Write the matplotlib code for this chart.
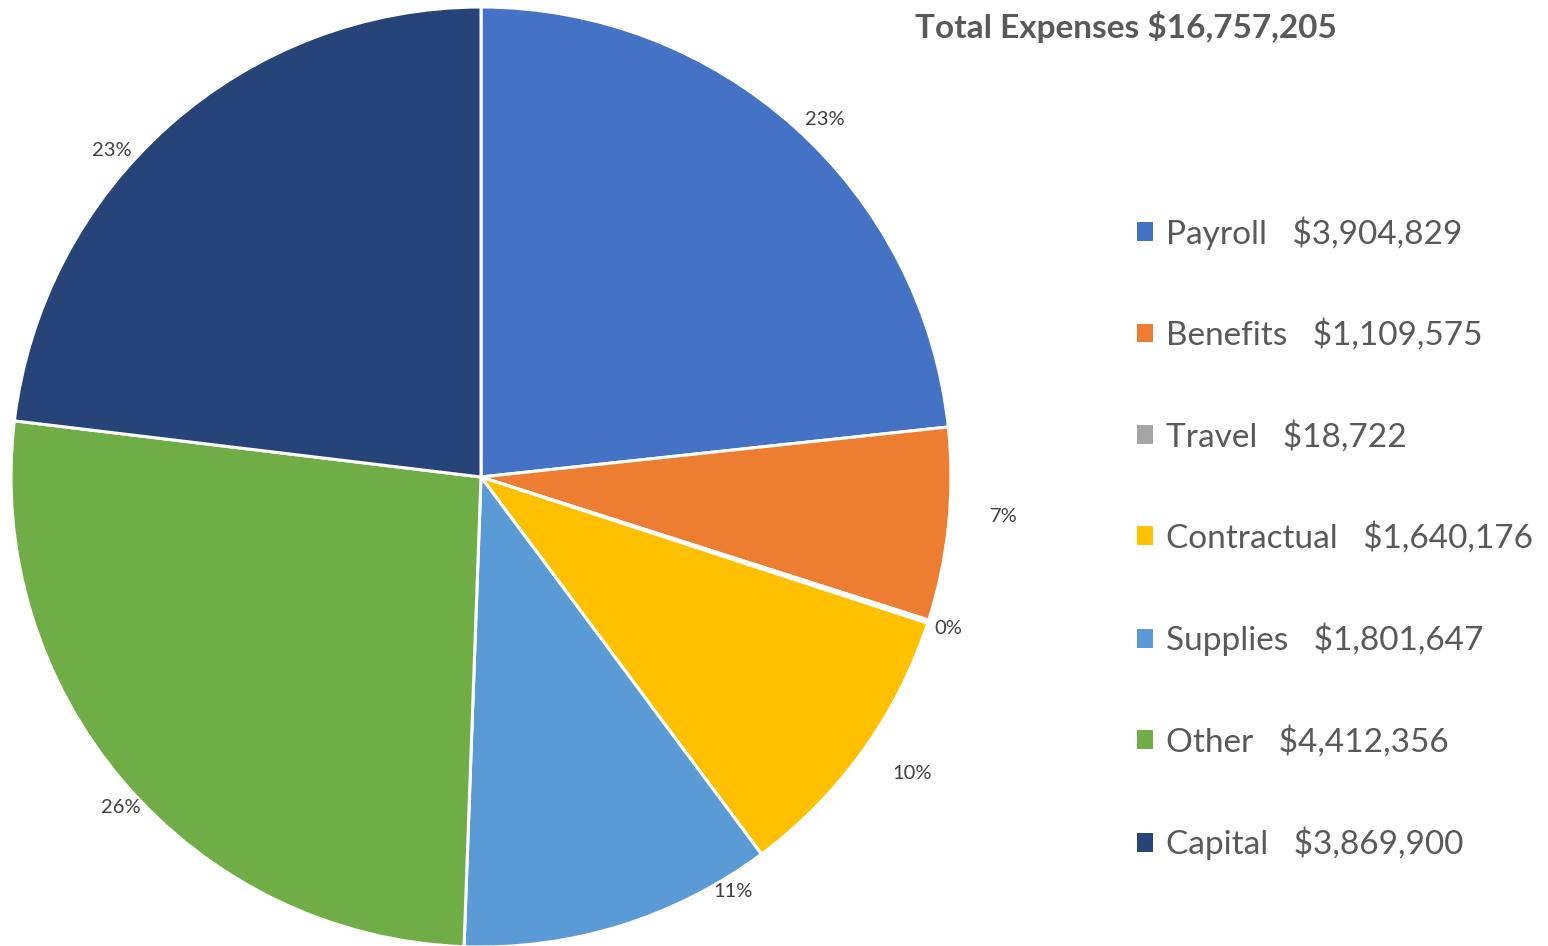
import matplotlib
matplotlib.use("Agg")
import matplotlib.pyplot as plt
from matplotlib.patches import Patch
import numpy as np

categories = ["Payroll", "Benefits", "Travel", "Contractual", "Supplies", "Other", "Capital"]
amounts = [3904829, 1109575, 18722, 1640176, 1801647, 4412356, 3869900]
amount_labels = ["$3,904,829", "$1,109,575", "$18,722", "$1,640,176", "$1,801,647", "$4,412,356", "$3,869,900"]
total_label = "$16,757,205"
colors = ["#4472C4", "#ED7D31", "#A5A5A5", "#FFC000", "#5B9BD5", "#70AD47", "#264478"]

# label placement tweaks (degrees shift, radius factor) like excel's outside end
lab_shift = [-2, 1.5, 0, 1.2, 14, 2, 7]
lab_rad = [1.055, 1.115, 1.045, 1.113, 1.032, 1.04, 1.049]

plt.rcParams['font.family'] = ['Lato', 'DejaVu Sans']
grey = "#595959"

W, H = 1548, 946
fig = plt.figure(figsize=(W / 100, H / 100), dpi=100)
ax = fig.add_axes([0, 0, 1, 1])

cx, cy, r = 481, H - 477, 470
wedges, _ = ax.pie(amounts, colors=colors, startangle=90, counterclock=False,
                   center=(cx, cy), radius=r, frame=True,
                   wedgeprops=dict(edgecolor='white', linewidth=2.2))
ax.set_xlim(0, W)
ax.set_ylim(0, H)
ax.set_aspect('equal')
ax.axis('off')

total = sum(amounts)
for i, w in enumerate(wedges):
    mid = (w.theta1 + w.theta2) / 2 + lab_shift[i]
    rr = r * lab_rad[i]
    x = cx + rr * np.cos(np.radians(mid))
    y = cy + rr * np.sin(np.radians(mid))
    pct = "%d%%" % round(amounts[i] / total * 100)
    ax.text(x, y, pct, ha='center', va='center', fontsize=14.5, color="#404040")

fig.text(1126 / W, 1 - 27 / H, "Total Expenses " + total_label, ha='center', va='center',
         fontsize=24, fontweight='bold', color=grey)

handles = [Patch(facecolor=c, edgecolor='none') for c in colors]
labels = [c + "   " + a for c, a in zip(categories, amount_labels)]
leg = fig.legend(handles, labels, loc='upper left', bbox_to_anchor=(1137 / W, 1 - 216 / H),
                 frameon=False, fontsize=24, handlelength=0.48, handleheight=0.48,
                 handletextpad=0.4, labelspacing=2.08, borderpad=0, borderaxespad=0)
for t in leg.get_texts():
    t.set_color(grey)

fig.savefig("out.png", dpi=100, facecolor='white')
